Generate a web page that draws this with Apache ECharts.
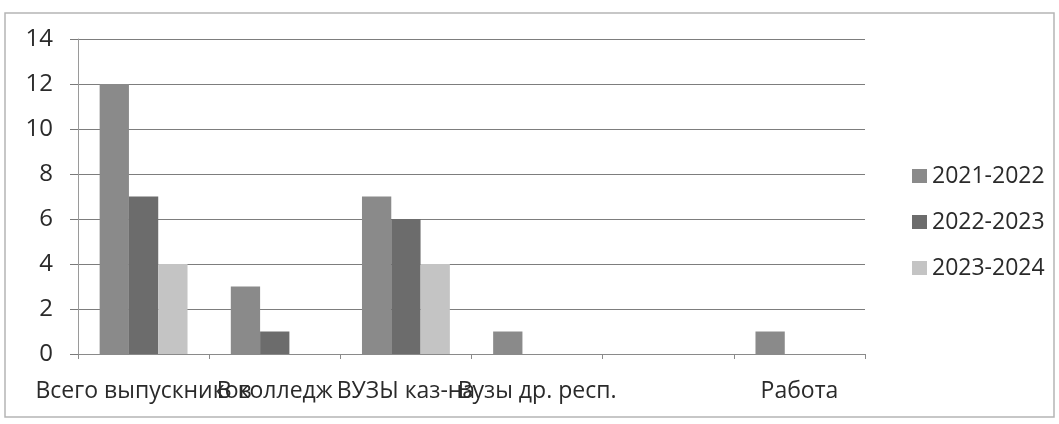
<!DOCTYPE html>
<html>
<head>
<meta charset="utf-8">
<script src="https://cdn.jsdelivr.net/npm/echarts@6/dist/echarts.min.js"></script>
<style>html,body{margin:0;padding:0;background:#fff;}#c{width:1059px;height:424px;}</style>
</head>
<body>
<div id="c"></div>
<script>
const categories = ['Всего выпускников', 'В колледж', 'ВУЗЫ каз-на', 'Вузы др. респ.', '', 'Работа'];
const seriesNames = ['2021-2022', '2022-2023', '2023-2024'];
const s2021 = [12, 3, 7, 1, 0, 1];
const s2022 = [7, 1, 6, 0, 0, 0];
const s2023 = [4, 0, 4, 0, 0, 0];
const yTicks = { min: 0, max: 14, interval: 2 };

const colors = ['#8a8a8a', '#6c6c6c', '#c4c4c4'];
const font = '"Open Sans", "Noto Sans", sans-serif';
const chart = echarts.init(document.getElementById('c'));
const values = [s2021, s2022, s2023];
chart.setOption({
  animation: false,
  backgroundColor: '#fff',
  color: colors,
  graphic: [{
    type: 'rect', shape: { x: 5, y: 13, width: 1049, height: 404 },
    style: { fill: 'none', stroke: '#b5b5b5', lineWidth: 1.5 }, silent: true, z: -1
  }],
  grid: { left: 78, right: 194, top: 39, bottom: 70, containLabel: false },
  legend: {
    orient: 'vertical', left: 907, top: 159,
    icon: 'rect', itemWidth: 15, itemHeight: 14, itemGap: 22, itemStyle: { borderWidth: 0 },
    textStyle: { fontFamily: font, fontSize: 23, color: '#2a2a2a', lineHeight: 24 },
    data: seriesNames
  },
  xAxis: {
    type: 'category', data: categories,
    axisLine: { lineStyle: { color: '#8a8a8a', width: 1 } },
    axisTick: { show: true, length: 5, lineStyle: { color: '#8a8a8a' } },
    axisLabel: { interval: 0, hideOverlap: false, margin: 26, fontFamily: font, fontSize: 23, color: '#2a2a2a' }
  },
  yAxis: {
    type: 'value', min: yTicks.min, max: yTicks.max, interval: yTicks.interval,
    axisLine: { show: true, lineStyle: { color: '#9a9a9a', width: 1 } },
    axisTick: { show: true, length: 8, lineStyle: { color: '#7a7a7a' } },
    axisLabel: { margin: 25, fontFamily: font, fontSize: 24, color: '#2a2a2a' },
    splitLine: { lineStyle: { color: '#7d7d7d', width: 1.2 } }
  },
  series: seriesNames.map((n, i) => ({
    name: n, type: 'bar', data: values[i],
    barGap: '0%', barCategoryGap: '33%',
    itemStyle: { color: colors[i] }
  }))
});
</script>
</body>
</html>
